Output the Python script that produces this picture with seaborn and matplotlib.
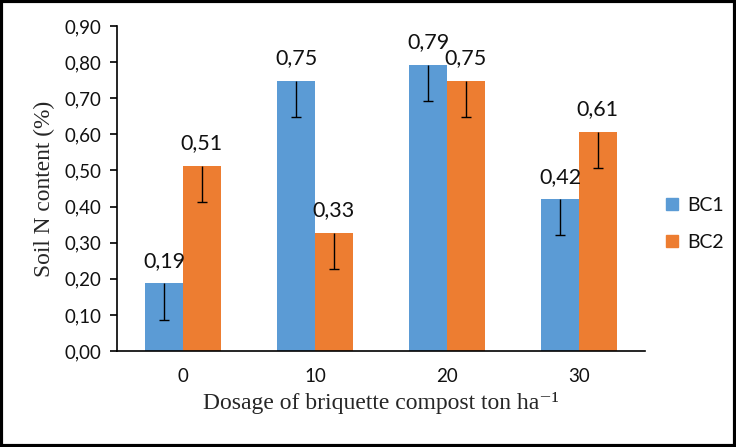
import matplotlib
matplotlib.use("Agg")
import matplotlib.pyplot as plt
import seaborn as sns
import pandas as pd
import numpy as np
from matplotlib.patches import Rectangle
from matplotlib.lines import Line2D

dosage = ["0", "10", "20", "30"]
bc1 = [0.187, 0.748, 0.793, 0.420]
bc2 = [0.513, 0.328, 0.748, 0.607]
err_bc1 = [0.10, 0.10, 0.10, 0.10]
err_bc2 = [0.10, 0.10, 0.10, 0.10]
series = ["BC1", "BC2"]
yticks = [0.0, 0.1, 0.2, 0.3, 0.4, 0.5, 0.6, 0.7, 0.8, 0.9]

colors = {"BC1": "#5B9BD5", "BC2": "#ED7D31"}

df = pd.DataFrame({
    "dosage": dosage * 2,
    "value": bc1 + bc2,
    "series": ["BC1"] * 4 + ["BC2"] * 4,
})

sns.set_style("white")
plt.rcParams['font.family'] = ['Lato', 'DejaVu Sans']

fig = plt.figure(figsize=(7.36, 4.47), dpi=100)
ax = fig.add_axes([117/736, 96/447, 528/736, 325/447])

sns.barplot(data=df, x="dosage", y="value", hue="series", order=dosage,
            hue_order=series, palette=colors, width=0.57, errorbar=None,
            saturation=1, ax=ax, legend=False, edgecolor="none")

errs = {"BC1": err_bc1, "BC2": err_bc2}
for cont, s in zip(ax.containers, series):
    for rect, e in zip(cont, errs[s]):
        xc = rect.get_x() + rect.get_width() / 2
        h = rect.get_height()
        ax.vlines(xc, h - e, h, colors="black", linewidth=1.0, zorder=3)
        ax.hlines(h - e, xc - 0.04, xc + 0.04, colors="black", linewidth=1.0, zorder=3)
        ax.text(xc, h + 0.035, f"{h:.2f}".replace(".", ","), ha="center",
                va="bottom", fontsize=15.5, color="#111111")

ax.set_ylim(0, 0.9)
ax.set_xlim(-0.5, 3.5)
ax.set_yticks(yticks)
ax.set_yticklabels([f"{t:.2f}".replace(".", ",") for t in yticks], fontsize=13.5, color="#111111")
ax.set_xticks(range(4))
ax.set_xticklabels(dosage, fontsize=13.5, color="#111111")
ax.set_xticks([-0.5, 0.5, 1.5, 2.5, 3.5], minor=True)
ax.tick_params(axis="x", which="major", length=0, pad=12)
ax.tick_params(axis="x", which="minor", length=5, width=1.2, direction="out", color="black")
ax.tick_params(axis="y", which="major", length=5, width=1.2, direction="out", color="black", pad=6, left=True)

for sp in ["top", "right"]:
    ax.spines[sp].set_visible(False)
for sp in ["left", "bottom"]:
    ax.spines[sp].set_color("black")
    ax.spines[sp].set_linewidth(1.2)

ax.set_xlabel("Dosage of briquette compost ton ha\u207b\u00b9", fontsize=17,
              family=["Liberation Serif", "DejaVu Serif"], labelpad=5)
ax.set_ylabel("Soil N content (%)", fontsize=16.8, family=["Liberation Serif", "DejaVu Serif"], labelpad=7)

handles = [Line2D([0], [0], marker="s", linestyle="none", markersize=8,
                  markerfacecolor=colors[s], markeredgecolor=colors[s]) for s in series]
leg = fig.legend(handles, series, loc="center left", bbox_to_anchor=(664/736, 1 - 224/447),
                 frameon=False, fontsize=14, handletextpad=0.4, labelspacing=1.0,
                 handlelength=0.8, borderpad=0, borderaxespad=0)
for t in leg.get_texts():
    t.set_color("#111111")

fig.patches.append(Rectangle((0.002, 0.003), 0.996, 0.994, transform=fig.transFigure,
                             fill=False, edgecolor="black", linewidth=3, zorder=10))

fig.savefig("out.png", dpi=100)
